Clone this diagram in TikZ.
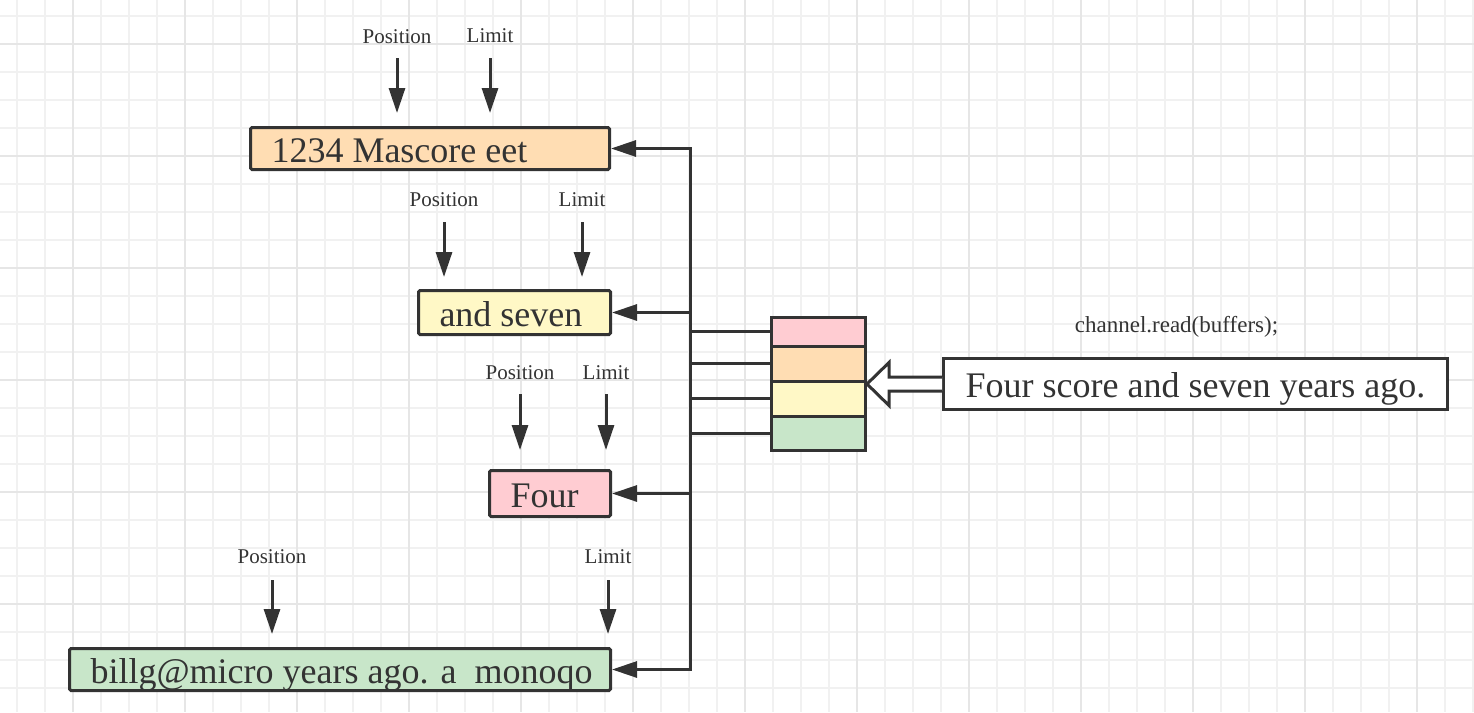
\documentclass[tikz,border=0pt]{standalone}
\usepackage{fontspec}
\setmainfont{Liberation Serif}
\usetikzlibrary{arrows.meta,calc}
\definecolor{ink}{HTML}{333333}
\definecolor{gridminor}{HTML}{F1F1F1}
\definecolor{gridmajor}{HTML}{E6E6E6}
\definecolor{peach}{HTML}{FFDDB3}
\definecolor{lemon}{HTML}{FFF8C6}
\definecolor{rose}{HTML}{FFCCD2}
\definecolor{mint}{HTML}{C8E6C9}
\begin{document}
\begin{tikzpicture}[x=1pt,y=-1pt,
  minorline/.style={draw=gridminor,line width=1.3pt},
  majorline/.style={draw=gridmajor,line width=1.6pt},
  bufbox/.style={draw=ink,line width=3pt,rounded corners=1.5pt,anchor=north west,
    inner xsep=21pt,inner ysep=0pt,text=ink,
    font=\fontsize{36}{40}\selectfont,text height=27pt,text depth=0pt},
  cell/.style={draw=ink,line width=3pt,anchor=north west,minimum width=94pt,inner sep=0pt},
  lbl/.style={anchor=base,text=ink,font=\fontsize{21}{24}\selectfont,inner sep=0pt},
  ptr/.style={draw=ink,line width=3pt,-{Triangle[length=25pt,width=16pt]}},
  wire/.style={draw=ink,line width=3pt},
  hollow/.style={draw=ink,line width=3pt,fill=white,line join=miter}]
\useasboundingbox (0,0) rectangle (1474,712);
% grid
\foreach \x in {17,45,...,1473} \draw[minorline] (\x,0) -- (\x,712);
\foreach \y in {16,44,...,700} \draw[minorline] (0,\y) -- (1474,\y);
\foreach \x in {73,185,...,1474} \draw[majorline] (\x,0) -- (\x,712);
\foreach \y in {44,156,...,700} \draw[majorline] (0,\y) -- (1474,\y);

% buffers
\node[bufbox,fill=peach,minimum height=42pt] (b1) at (249,126) {\makebox[317pt][l]{1234 Mascore eet}};
\node[bufbox,fill=lemon,minimum height=44pt] (b2) at (417,289) {\makebox[150pt][l]{and seven}};
\node[bufbox,fill=rose,minimum height=46pt] (b3) at (488,469) {\makebox[79pt][l]{Four}};
\node[bufbox,fill=mint,minimum height=42pt] (b4) at (68,647) {\makebox[499pt][l]{billg@micro years ago. a\ \ monoqo}};

% position / limit labels
\node[lbl] (p1) at (397,43) {Position};
\node[lbl] (l1) at (490,42) {Limit};
\node[lbl] (p2) at (444,206) {Position};
\node[lbl] (l2) at (582,206) {Limit};
\node[lbl] (p3) at (520,379) {Position};
\node[lbl] (l3) at (606,379) {Limit};
\node[lbl] (p4) at (272,563) {Position};
\node[lbl] (l4) at (608,563) {Limit};

\draw[ptr] ($(p1.base)+(0,15)$) -- ++(0,55);
\draw[ptr] ($(l1.base)+(0,16)$) -- ++(0,55);
\draw[ptr] ($(p2.base)+(0,16)$) -- ++(0,55);
\draw[ptr] ($(l2.base)+(0,16)$) -- ++(0,55);
\draw[ptr] ($(p3.base)+(0,15)$) -- ++(0,56);
\draw[ptr] ($(l3.base)+(0,15)$) -- ++(0,56);
\draw[ptr] ($(p4.base)+(0,17)$) -- ++(0,54);
\draw[ptr] ($(l4.base)+(0,17)$) -- ++(0,54);

% stack of buffers
\node[cell,fill=rose,minimum height=28.5pt] (r1) at (770,316) {};
\node[cell,fill=peach,minimum height=35pt] (r2) at (770,344.5) {};
\node[cell,fill=lemon,minimum height=35pt] (r3) at (770,379.5) {};
\node[cell,fill=mint,minimum height=34.5pt] (r4) at (770,414.5) {};

% bus
\coordinate (bus) at (690,0);
\draw[wire,line cap=rect] (b1.east -| bus) -- (b4.east -| bus);
\draw[ptr] (b1.east -| bus) -- (b1.east);
\draw[ptr] (b2.east -| bus) -- (b2.east);
\draw[ptr] (b3.east -| bus) -- (b3.east);
\draw[ptr] (b4.east -| bus) -- (b4.east);
\draw[wire] (r1.west -| bus) -- (r1.west);
\draw[wire] (r2.west -| bus) -- (r2.west);
\draw[wire] (r3.west -| bus) -- (r3.west);
\draw[wire] (r4.west -| bus) -- (r4.west);

% source
\node[draw=ink,line width=3pt,fill=white,minimum width=504pt,minimum height=51pt,inner sep=0pt,
  anchor=north west,text=ink,font=\fontsize{36}{40}\selectfont,text height=27pt,text depth=0pt]
  (src) at (942,357) {Four score and seven years ago.};
\node[lbl,font=\fontsize{23}{26}\selectfont] (call) at (1176.5,332) {channel.read(buffers);};

\coordinate (tip) at (r3.north east |- src.west);
\draw[hollow] ($(src.west)+(0,-7)$) -- ($(tip)+(22,-7)$) -- ($(tip)+(22,-21.5)$) -- (tip)
  -- ($(tip)+(22,21.5)$) -- ($(tip)+(22,7)$) -- ($(src.west)+(0,7)$);
\end{tikzpicture}
\end{document}
